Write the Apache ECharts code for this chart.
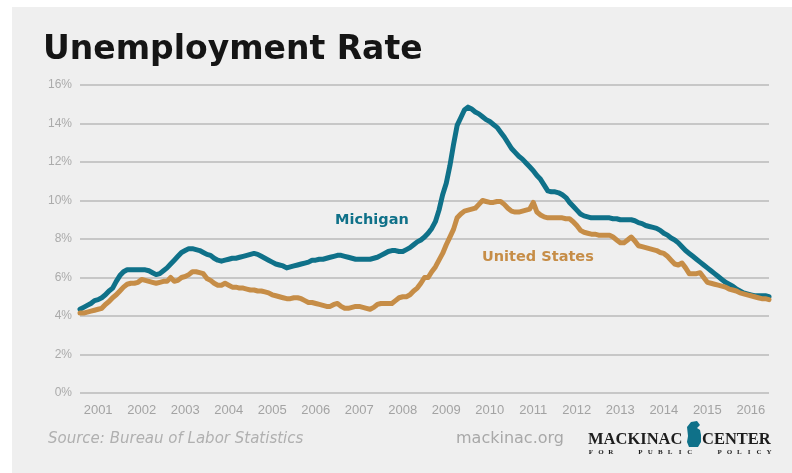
<!DOCTYPE html>
<html>
<head>
<meta charset="utf-8">
<script src="https://cdn.jsdelivr.net/npm/echarts@6/dist/echarts.min.js"></script>
<style>
html,body{margin:0;padding:0;background:#ffffff;}
#chart{width:792px;height:473px;}
</style>
</head>
<body>
<div id="chart"></div>
<script>
// Monthly categories Jan 2001 .. Nov 2016
const years = ['2001','2002','2003','2004','2005','2006','2007','2008','2009','2010','2011','2012','2013','2014','2015','2016'];
const months = [];
years.forEach(function (y) {
  for (let m = 1; m <= 12; m++) {
    if (y === '2016' && m > 11) break;
    months.push(y + '-' + (m < 10 ? '0' + m : m));
  }
});

const michigan = [
  4.35, 4.45, 4.55, 4.65, 4.8, 4.85, 4.95, 5.1, 5.3, 5.45, 5.8, 6.1,
  6.3, 6.4, 6.4, 6.4, 6.4, 6.4, 6.4, 6.35, 6.25, 6.15, 6.2, 6.35,
  6.5, 6.7, 6.9, 7.1, 7.3, 7.4, 7.5, 7.5, 7.45, 7.4, 7.3, 7.2,
  7.15, 7.0, 6.9, 6.85, 6.9, 6.95, 7.0, 7.0, 7.05, 7.1, 7.15, 7.2,
  7.25, 7.2, 7.1, 7.0, 6.9, 6.8, 6.7, 6.65, 6.6, 6.5, 6.55, 6.6,
  6.65, 6.7, 6.75, 6.8, 6.9, 6.9, 6.95, 6.95, 7.0, 7.05, 7.1, 7.15,
  7.15, 7.1, 7.05, 7.0, 6.95, 6.95, 6.95, 6.95, 6.95, 7.0, 7.05, 7.15,
  7.25, 7.35, 7.4, 7.4, 7.35, 7.35, 7.45, 7.55, 7.7, 7.85, 7.95, 8.1,
  8.3, 8.55, 8.9, 9.5, 10.3, 10.9, 11.8, 12.9, 13.9, 14.3, 14.7, 14.85,
  14.75, 14.6, 14.5, 14.35, 14.2, 14.1, 13.95, 13.8, 13.55, 13.3, 13.0, 12.7,
  12.5, 12.3, 12.15, 11.95, 11.75, 11.55, 11.3, 11.1, 10.8, 10.5, 10.45, 10.45,
  10.4, 10.3, 10.15, 9.9, 9.7, 9.5, 9.3, 9.2, 9.15, 9.1, 9.1, 9.1,
  9.1, 9.1, 9.1, 9.05, 9.05, 9.0, 9.0, 9.0, 9.0, 8.95, 8.85, 8.8,
  8.7, 8.65, 8.6, 8.55, 8.45, 8.3, 8.2, 8.05, 7.95, 7.8, 7.6, 7.4,
  7.25, 7.1, 6.95, 6.8, 6.65, 6.5, 6.35, 6.2, 6.05, 5.9, 5.75, 5.65,
  5.55, 5.4, 5.3, 5.2, 5.15, 5.1, 5.05, 5.05, 5.05, 5.05, 5.0
];

const unitedStates = [
  4.15, 4.15, 4.2, 4.25, 4.3, 4.35, 4.4, 4.6, 4.75, 4.95, 5.1, 5.3,
  5.5, 5.65, 5.7, 5.7, 5.75, 5.9, 5.85, 5.8, 5.75, 5.7, 5.75, 5.8,
  5.8, 6.0, 5.8, 5.85, 6.0, 6.05, 6.15, 6.3, 6.3, 6.25, 6.2, 5.95,
  5.85, 5.7, 5.6, 5.6, 5.7, 5.6, 5.5, 5.5, 5.45, 5.45, 5.4, 5.35,
  5.35, 5.3, 5.3, 5.25, 5.2, 5.1, 5.05, 5.0, 4.95, 4.9, 4.9, 4.95,
  4.95, 4.9, 4.8, 4.7, 4.7, 4.65, 4.6, 4.55, 4.5, 4.5, 4.6, 4.65,
  4.5, 4.4, 4.4, 4.45, 4.5, 4.5, 4.45, 4.4, 4.35, 4.45, 4.6, 4.65,
  4.65, 4.65, 4.65, 4.8, 4.95, 5.0, 5.0, 5.1, 5.3, 5.45, 5.7, 6.0,
  6.0, 6.3, 6.55, 6.9, 7.25, 7.7, 8.1, 8.5, 9.1, 9.3, 9.45, 9.5,
  9.55, 9.6, 9.8, 10.0, 9.95, 9.9, 9.9, 9.95, 9.95, 9.8, 9.6, 9.45,
  9.4, 9.4, 9.45, 9.5, 9.55, 9.9, 9.4, 9.25, 9.15, 9.1, 9.1, 9.1,
  9.1, 9.1, 9.05, 9.05, 8.9, 8.7, 8.45, 8.35, 8.3, 8.25, 8.25, 8.2,
  8.2, 8.2, 8.2, 8.1, 7.95, 7.8, 7.8, 7.95, 8.1, 7.9, 7.65, 7.6,
  7.55, 7.5, 7.45, 7.4, 7.3, 7.25, 7.1, 6.9, 6.7, 6.65, 6.75, 6.5,
  6.2, 6.2, 6.2, 6.25, 6.0, 5.75, 5.7, 5.65, 5.6, 5.55, 5.5, 5.4,
  5.35, 5.3, 5.2, 5.15, 5.1, 5.05, 5.0, 4.95, 4.9, 4.9, 4.85
];

const yTicks = [0, 2, 4, 6, 8, 10, 12, 14, 16];
const taglineText = 'FOR  PUBLIC  POLICY';

const chart = echarts.init(document.getElementById('chart'), null, {renderer: 'canvas'});
const teal = '#0f7189';
const gold = '#c68d47';
const sans = '"Liberation Sans", Arial, Helvetica, sans-serif';
const wide = '"DejaVu Sans", Verdana, sans-serif';
const serif = '"Liberation Serif", "DejaVu Serif", serif';

// tagline letters spread evenly under the logo
const tagline = [];
const tagStart = 591, tagEnd = 769;
const step = (tagEnd - tagStart) / (taglineText.length - 1);
for (let i = 0; i < taglineText.length; i++) {
  if (taglineText[i] === ' ') continue;
  tagline.push({type: 'text', x: tagStart + i * step, y: 449,
    style: {text: taglineText[i], fill: '#1d1d1d', font: 'bold 7px ' + serif, textAlign: 'center'}});
}

chart.setOption({
  animation: false,
  backgroundColor: '#ffffff',
  grid: {left: 80, right: 23, top: 85, bottom: 80, containLabel: false},
  xAxis: {
    type: 'category',
    data: months,
    boundaryGap: false,
    axisLine: {show: false},
    axisTick: {show: false},
    splitLine: {show: false},
    axisLabel: {
      interval: function (idx) { return idx % 12 === 5; },
      formatter: function (v) { return v.slice(0, 4); },
      color: '#a3a3a3',
      fontFamily: sans,
      fontSize: 13,
      margin: 11
    }
  },
  yAxis: {
    type: 'value',
    min: yTicks[0],
    max: yTicks[yTicks.length - 1],
    interval: 2,
    axisLine: {show: false},
    axisTick: {show: false},
    splitLine: {lineStyle: {color: '#bababa', width: 1.5}},
    axisLabel: {
      formatter: '{value}%',
      color: '#ababab',
      fontFamily: sans,
      fontSize: 12,
      margin: 8
    }
  },
  series: [
    {
      name: 'Michigan',
      type: 'line',
      data: michigan,
      showSymbol: false,
      lineStyle: {color: teal, width: 5, join: 'round', cap: 'round'},
      z: 2
    },
    {
      name: 'United States',
      type: 'line',
      data: unitedStates,
      showSymbol: false,
      lineStyle: {color: gold, width: 5, join: 'round', cap: 'round'},
      z: 3
    }
  ],
  graphic: [
    {type: 'rect', z: -10, silent: true, shape: {x: 12, y: 7, width: 780, height: 466}, style: {fill: '#efefef'}},
    {type: 'text', left: 43, top: 34, style: {text: 'Unemployment Rate', fill: '#151515', font: 'bold 33px ' + wide}},
    {type: 'text', left: 335, top: 213, style: {text: 'Michigan', fill: teal, font: 'bold 14.5px ' + wide}},
    {type: 'text', left: 482, top: 250, style: {text: 'United States', fill: gold, font: 'bold 14.5px ' + wide}},
    {type: 'text', left: 48, top: 432, style: {text: 'Source: Bureau of Labor Statistics', fill: '#b0b0b0', font: 'oblique 15px ' + wide}},
    {type: 'text', left: 456, top: 431, style: {text: 'mackinac.org', fill: '#a8a8a8', font: '16px ' + wide}},
    {type: 'text', left: 588, top: 431, style: {text: 'MACKINAC', fill: '#1d1d1d', font: 'bold 16.5px ' + serif}},
    {type: 'text', left: 702, top: 431, style: {text: 'CENTER', fill: '#1d1d1d', font: 'bold 16.5px ' + serif}},
    {type: 'polygon', shape: {points: [[687,427],[691,422],[697,421],[700,425],[697,428],[700,430],[701,435],[701,442],[698,447],[689,447],[687,442],[688,436]]}, style: {fill: teal}}
  ].concat(tagline)
});
</script>
</body>
</html>
